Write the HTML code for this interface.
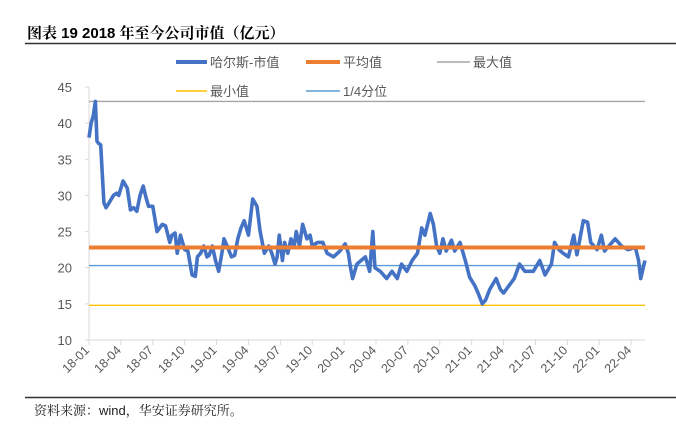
<!DOCTYPE html>
<html><head><meta charset="utf-8"><style>
body{margin:0;background:#fff;width:676px;height:437px;overflow:hidden;font-family:"Liberation Sans","Noto Sans CJK SC",sans-serif}
</style></head><body>
<svg width="676" height="437" xmlns="http://www.w3.org/2000/svg">
<text x="27" y="38" font-size="15" font-weight="bold" fill="#000" font-family="Liberation Sans,Noto Serif CJK SC,serif">图表 19 2018 年至今公司市值（亿元）</text>
<line x1="25" y1="43.5" x2="676" y2="43.5" stroke="#333" stroke-width="1.5"/>
<g id="legend" font-size="13" fill="#595959">
<g><line x1="176" y1="62" x2="207" y2="62" stroke="#4472C4" stroke-width="4"/><text x="210" y="67">哈尔斯-市值</text></g>
<g><line x1="306" y1="62" x2="340" y2="62" stroke="#ED7D31" stroke-width="4"/><text x="343" y="67">平均值</text></g>
<g><line x1="437" y1="62" x2="470" y2="62" stroke="#A5A5A5" stroke-width="1.5"/><text x="473" y="67">最大值</text></g>
<g><line x1="176" y1="91" x2="207" y2="91" stroke="#FFC000" stroke-width="1.5"/><text x="210" y="96">最小值</text></g>
<g><line x1="306" y1="91" x2="340" y2="91" stroke="#5B9BD5" stroke-width="1.5"/><text x="343" y="96">1/4分位</text></g>
</g>
<g id="axes"></g>
<g id="marks"></g>
<line x1="25" y1="397.5" x2="676" y2="397.5" stroke="#333" stroke-width="1.5"/>
<text x="34" y="415" font-size="13" fill="#222" font-family="Liberation Sans,Noto Serif CJK SC,serif">资料来源：wind，华安证券研究所。</text>
</svg>
<script>
const months=[0,0.2,0.4,0.6,0.75,0.9,1.1,1.25,1.4,1.6,1.9,2.1,2.3,2.6,2.8,3.2,3.6,3.9,4.2,4.5,4.8,5.1,5.4,5.6,6.0,6.4,6.9,7.2,7.6,7.8,8.1,8.3,8.6,9.0,9.3,9.7,10.0,10.2,10.5,10.8,11.1,11.3,11.6,11.9,12.2,12.5,12.7,13.0,13.4,13.7,14.0,14.3,14.6,15.0,15.4,15.8,16.1,16.5,16.9,17.2,17.5,17.7,17.9,18.2,18.4,18.7,19.0,19.3,19.5,19.8,20.1,20.5,20.8,21.0,21.5,22.0,22.4,23.0,23.6,24.1,24.4,24.6,24.8,25.2,25.6,26.0,26.4,26.7,26.9,27.4,28.0,28.5,29.0,29.4,29.9,30.4,30.9,31.3,31.6,32.1,32.4,32.7,33.0,33.3,33.6,34.1,34.4,34.9,35.4,35.8,36.3,36.6,37.0,37.3,37.7,38.3,38.7,39.0,39.5,40.0,40.5,41.0,41.8,42.4,42.9,43.5,43.8,44.2,44.6,45.1,45.6,45.9,46.5,46.9,47.2,47.8,48.2,48.5,48.9,49.5,50.1,50.7,51.4,51.7,51.9,52.3];
const values=[38,40,41,43,37.5,37.2,37,33,29,28.3,29,29.5,30,30.3,30,32,31,28,28.3,27.8,30,31.3,29.5,28.5,28.5,25,26,25.8,23.5,24.5,24.8,22,24.5,22.5,22.3,19,18.8,21.5,22,23,21.5,21.7,23,21,19.5,22,24,23,21.5,21.7,24,25.5,26.5,24.5,29.5,28.5,25,22,23,22,20.5,21.5,24.5,21,23.5,22,24,23,25,23,26,24,24.5,23,23.5,23.5,22,21.5,22.3,23.3,22,20,18.5,20.5,21,21.5,19.5,25,20,19.5,18.5,19.5,18.5,20.5,19.5,21,22,25.5,24.5,27.5,26,23,22,24,22.3,23.8,22.3,23.5,21,18.7,17.5,16.5,15,15.5,17,18.5,17,16.5,17.5,18.5,20.5,19.5,19.5,21,19,20.5,23.5,22.5,22,21.5,24.5,21.8,26.5,26.3,23.5,22.5,24.5,22.3,23,24,23,22.5,22.8,21,18.5,21];
const refLevels=[22.8,43,14.8,20.3];
const refNames=['mean-line','max-line','min-line','quartile-line'];
const yTicks=[10,15,20,25,30,35,40,45];
const xTickLabels=['18-01','18-04','18-07','18-10','19-01','19-04','19-07','19-10','20-01','20-04','20-07','20-10','21-01','21-04','21-07','21-10','22-01','22-04'];
const NS='http://www.w3.org/2000/svg';
const X0=89,PXM=10.63,XR=645,Y0=340,PXU=7.229;
function xs(m){return X0+m*PXM}
function ys(v){return Y0-(v-10)*PXU}
function mk(t,a,p){const e=document.createElementNS(NS,t);for(const k in a)e.setAttribute(k,a[k]);p.appendChild(e);return e}
const ax=document.getElementById('axes'),mg=document.getElementById('marks');
let e=mk('line',{x1:X0,y1:ys(45),x2:X0,y2:Y0,stroke:'#d9d9d9','stroke-width':1},ax);

e=mk('line',{x1:X0,y1:Y0,x2:XR,y2:Y0,stroke:'#d9d9d9','stroke-width':1},ax);

yTicks.forEach(v=>{
 mk('line',{x1:X0-4,y1:ys(v),x2:X0,y2:ys(v),stroke:'#d9d9d9'},ax);
 const t=mk('text',{x:72,y:ys(v)+5,'font-size':13,fill:'#595959','text-anchor':'end'},ax);t.textContent=v;
 
 
});
xTickLabels.forEach((l,i)=>{
 const x=xs(i*3);
 mk('line',{x1:x,y1:Y0,x2:x,y2:Y0+5,stroke:'#d9d9d9'},ax);
 const t=mk('text',{x:0,y:0,'font-size':12.5,fill:'#595959','text-anchor':'end',transform:`translate(${x+1},${Y0+11}) rotate(-45)`},ax);t.textContent=l;
 
 
});
const refColors=['#ED7D31','#A5A5A5','#FFC000','#5B9BD5'],refW=[4,1.3,1.3,1.3];
[1,2,3].forEach(i=>{
 const l=mk('line',{x1:X0,y1:ys(refLevels[i]),x2:XR,y2:ys(refLevels[i]),stroke:refColors[i],'stroke-width':refW[i]},mg);
 
 
});
const p=mk('polyline',{points:months.map((m,i)=>xs(m)+','+ys(values[i])).join(' '),fill:'none',stroke:'#4472C4','stroke-width':3.6,'stroke-linejoin':'round'},mg);


const ml=mk('line',{x1:X0,y1:ys(refLevels[0]),x2:XR,y2:ys(refLevels[0]),stroke:refColors[0],'stroke-width':4},mg);


</script>
</body></html>
